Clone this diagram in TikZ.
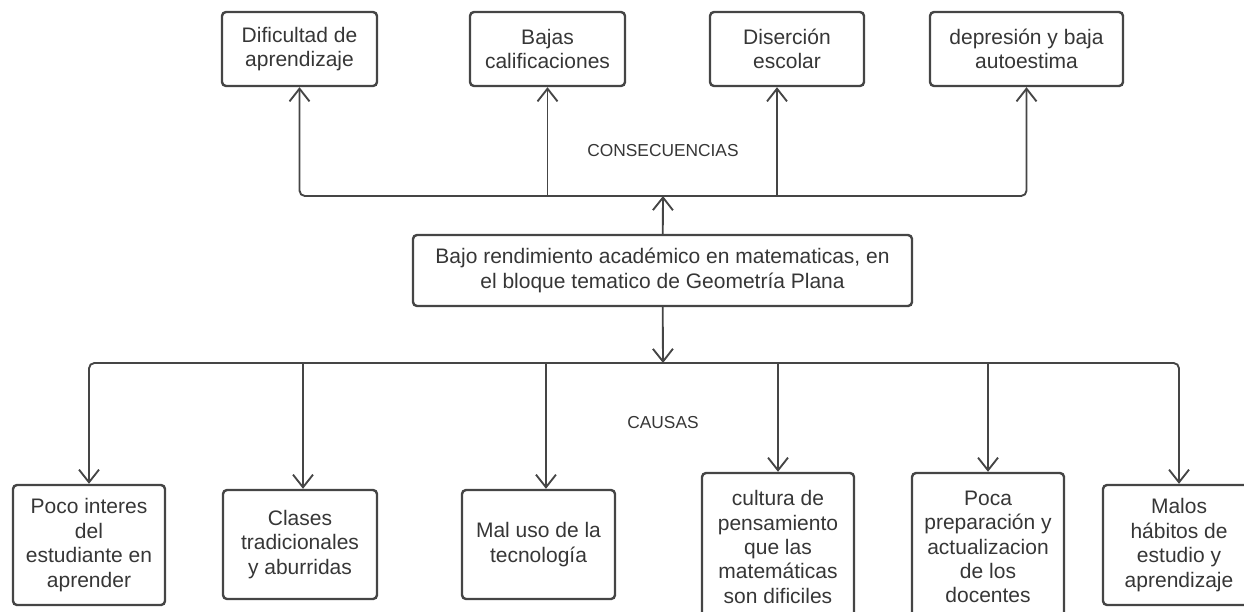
\documentclass[tikz,border=0pt]{standalone}
\usepackage{fontspec}
\setmainfont{Liberation Sans}
\usetikzlibrary{arrows.meta}
\definecolor{linea}{HTML}{454545}
\definecolor{texto}{HTML}{363636}

\begin{document}
\begin{tikzpicture}[->,>={Straight Barb[length=9.5pt,width=15pt]},x=0.75pt,y=-0.75pt,text=texto]
    \tikzstyle{caja}=[draw=linea,line width=1.8pt,rounded corners=3pt,align=center,inner sep=2pt,font=\fontsize{15.75}{18.3}\selectfont]
    \tikzstyle{flecha}=[draw=linea,line width=1.4pt]
    \tikzstyle{rotulo}=[font=\fontsize{13}{15}\selectfont]
    \useasboundingbox (0,0) rectangle (1244,611);
    % consecuencias
    \node[caja,minimum width=116.25pt,minimum height=55.5pt] (C1) at (299.5,49) {Dificultad de\\aprendizaje};
    \node[caja,minimum width=116.25pt,minimum height=55.5pt] (C2) at (547.5,49) {Bajas\\calificaciones};
    \node[caja,minimum width=115.5pt,minimum height=55.5pt]  (C3) at (787,49)   {Diserción\\escolar};
    \node[caja,minimum width=144.75pt,minimum height=55.5pt] (C4) at (1026.5,49) {depresión y baja\\autoestima};
    \node[rotulo] (cons) at (663,151) {CONSECUENCIAS};
    % problema
    \node[caja,minimum width=374.25pt,minimum height=53.25pt] (P) at (662.5,270.5) {Bajo rendimiento académico en matematicas, en\\el bloque tematico de Geometría Plana};
    \node[rotulo] (caus) at (663,423) {CAUSAS};
    % causas
    \node[caja,minimum width=114pt,minimum height=90pt]     (K1) at (89,545)    {Poco interes\\del\\estudiante en\\aprender};
    \node[caja,minimum width=115.5pt,minimum height=81.75pt] (K2) at (300,544.5)  {Clases\\tradicionales\\y aburridas};
    \node[caja,minimum width=114.75pt,minimum height=81.75pt] (K3) at (538.5,544.5) {Mal uso de la\\tecnología};
    \node[caja,minimum width=114pt,minimum height=111pt]    (K4) at (778,547)   {cultura de\\pensamiento\\que las\\matemáticas\\son dificiles};
    \node[caja,minimum width=114pt,minimum height=111pt]    (K5) at (988,547)   {Poca\\preparación y\\actualizacion\\de los\\docentes};
    \node[caja,minimum width=114pt,minimum height=90pt]     (K6) at (1179,545)  {Malos\\hábitos de\\estudio y\\aprendizaje};
    \coordinate (jt) at (663,196);
    \coordinate (jb) at (663,363);
    \coordinate (c3b) at ([xshift=-7.5pt]C3.south);
    \coordinate (k2b) at ([xshift=2.25pt]K2.north);
    \coordinate (k3b) at ([xshift=5.6pt]K3.north);
    % arriba
    \draw[flecha] (P) -- (jt);
    \draw[flecha,rounded corners=4pt] (jt) -| (C1);
    \draw[flecha,rounded corners=4pt] (jt) -| (C4);
    \draw[flecha] (jt -| C2) -- (C2);
    \draw[flecha] (jt -| c3b) -- (c3b);
    % abajo
    \draw[flecha] (P) -- (jb);
    \draw[flecha,rounded corners=4pt] (jb) -| (K1);
    \draw[flecha,rounded corners=4pt] (jb) -| (K6);
    \draw[flecha] (jb -| k2b) -- (k2b);
    \draw[flecha] (jb -| k3b) -- (k3b);
    \draw[flecha] (jb -| K4) -- (K4);
    \draw[flecha] (jb -| K5) -- (K5);
\end{tikzpicture}
\end{document}
